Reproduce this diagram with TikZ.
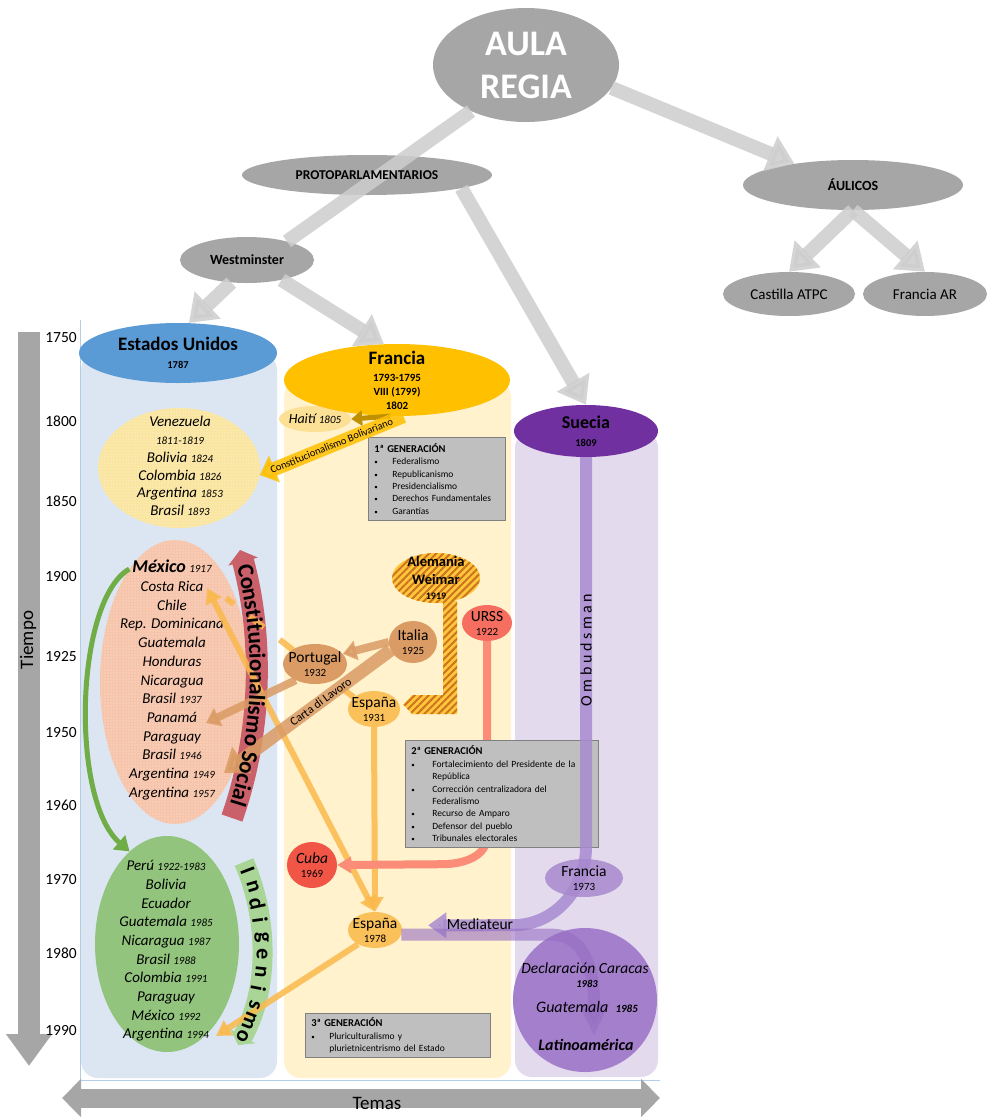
\documentclass[tikz,border=0pt]{standalone}
\usepackage{fontspec}
\setmainfont{Carlito}
\usepackage{tikz}
\usetikzlibrary{arrows.meta,shapes.geometric,patterns.meta,decorations.text,calc}

\definecolor{nodegray}{RGB}{166,166,166}
\definecolor{arrgray}{RGB}{205,205,205}
\definecolor{colblue}{RGB}{220,230,242}
\definecolor{colyel}{RGB}{255,242,204}
\definecolor{colpur}{RGB}{228,218,238}
\definecolor{axisblue}{RGB}{180,205,230}
\definecolor{timegray}{RGB}{166,166,166}
\definecolor{eeuublue}{RGB}{91,155,213}
\definecolor{frgold}{RGB}{255,192,0}
\definecolor{suepur}{RGB}{112,48,160}
\definecolor{haitiyel}{RGB}{251,224,150}
\definecolor{darkgold}{RGB}{191,144,0}
\definecolor{venyel}{RGB}{250,229,160}
\definecolor{mexred}{RGB}{246,196,170}
\definecolor{consred}{RGB}{201,96,106}
\definecolor{perugreen}{RGB}{146,196,125}
\definecolor{indgreen}{RGB}{169,213,150}
\definecolor{arrgreen}{RGB}{112,173,71}
\definecolor{brownor}{RGB}{218,155,100}
\definecolor{spainor}{RGB}{250,192,90}
\definecolor{lightor}{RGB}{250,185,75}
\definecolor{ussrred}{RGB}{245,110,95}
\definecolor{ussrband}{RGB}{250,140,120}
\definecolor{cubared}{RGB}{240,85,70}
\definecolor{hatchyel}{RGB}{255,200,60}
\definecolor{hatchorg}{RGB}{205,115,30}
\definecolor{boxgray}{RGB}{191,191,191}
\definecolor{boxedge}{RGB}{128,128,128}
\definecolor{fr73pur}{RGB}{168,137,206}
\definecolor{latpur}{RGB}{163,127,204}
\definecolor{bandpur}{RGB}{150,110,195}
\definecolor{ombpur}{RGB}{167,139,208}

\pgfdeclarelayer{back}
\pgfdeclarelayer{links}
\pgfdeclarelayer{front}
\pgfsetlayers{back,links,main,front}

\newcommand{\fsz}[2]{\fontsize{#1}{#2}\selectfont}
\newcommand{\yr}[1]{{\fsz{11}{11}#1}}
\newcommand{\bul}[2][18pt]{\makebox[#1][l]{\fsz{7}{7}\textbullet}#2}

\tikzset{
  ell/.style 2 args={ellipse, inner sep=0pt, minimum width=#1pt, minimum height=#2pt},
  lab/.style={align=center, inner sep=0pt},
  smlab/.style={align=center, inner sep=0pt, font=\fsz{15.5}{14}},
  topnode/.style={fill=nodegray, font=\fsz{14}{14}\bfseries},
  listtext/.style={align=center, inner sep=0pt, font=\fsz{15}{18.7}\itshape},
  yearlbl/.style={font=\fsz{15.5}{15.5}},
  grayline/.style={line width=14pt, arrgray, opacity=.85},
  grayarrow/.style={grayline, -{Triangle[width=36pt,length=26pt]}},
  timearrow/.style={line width=22pt, timegray, -{Triangle[width=44pt,length=32pt]}},
  temasarrow/.style={line width=19pt, timegray, {Triangle[width=37pt,length=19pt]}-{Triangle[width=37pt,length=19pt]}},
  genbox/.style={draw=boxedge, fill=boxgray, line width=.8pt, anchor=north west, inner xsep=6pt, inner ysep=4pt, align=left, font=\fsz{9.5}{12.4}},
  orline/.style={line width=6pt, lightor, opacity=.85},
  orarrow/.style={orline, -{Triangle[width=17pt,length=15pt]}},
  brownarrow/.style={line width=#1, brownor, opacity=.85, -{Triangle[width=0pt 2.4,length=0pt 1.7]}},
  hatch/.style={preaction={fill=hatchyel}, pattern={Lines[angle=45,distance=5pt,line width=2pt]}, pattern color=hatchorg},
  dotfill/.style={postaction={pattern={Dots[distance=3pt,radius=.6pt]}, pattern color=#1}},
  bandtext/.style={text=black, text opacity=1},
}

\begin{document}
\begin{tikzpicture}[x=1pt,y=-1pt]
\useasboundingbox (0,0) rectangle (988,1117);

% columns, axes, lists
\begin{pgfonlayer}{back}
\fill[white] (0,0) rectangle (988,1117);
\fill[colblue,rounded corners=17pt] (81,353) rectangle (277,1078);
\fill[colyel,rounded corners=17pt] (284,380) rectangle (511,1078);
\fill[colpur,rounded corners=17pt] (515,431) rectangle (658,1077);
\draw[axisblue,line width=1pt] (80,320) -- (80,1080) -- (660,1080);

\draw[timearrow] (29,332) -- (29,1066);
\node[rotate=90,font=\fsz{19}{19}] (tiempo) at (28,640) {Tiempo};
\draw[temasarrow] (62,1098) -- (660,1098);
\node[font=\fsz{19}{19}] (temas) at (377,1103) {Temas};
\foreach \yy/\yp in {1750/338,1800/421,1850/501,1900/577,1925/657,1950/733,1960/805,1970/880,1980/953,1990/1031}
  \node[yearlbl] (yr\yy) at (61,\yp) {\yy};

\node[ell={162}{120}, fill=venyel, dotfill=white!55!venyel] (venez) at (179,468) {};
\node[listtext, font=\fsz{15}{17.8}\itshape] (venezt) at (180,466) {Venezuela\\\yr{1811-1819}\\Bolivia \yr{1824}\\Colombia \yr{1826}\\Argentina \yr{1853}\\Brasil \yr{1893}};
\node[ell={150}{284}, fill=mexred, dotfill=white!55!mexred] (mexico) at (175,682) {};
\node[listtext] (mexicot) at (172,680) {{\fsz{18}{18}\bfseries México} \yr{1917}\\Costa Rica\\Chile\\Rep. Dominicana\\Guatemala\\Honduras\\Nicaragua\\Brasil \yr{1937}\\Panamá\\Paraguay\\Brasil \yr{1946}\\Argentina \yr{1949}\\Argentina \yr{1957}};
\node[ell={144}{216}, fill=perugreen] (peru) at (167,944) {};
\node[listtext] (perut) at (166,951) {Perú \yr{1922-1983}\\Bolivia\\Ecuador\\Guatemala \yr{1985}\\Nicaragua \yr{1987}\\Brasil \yr{1988}\\Colombia \yr{1991}\\Paraguay\\México \yr{1992}\\Argentina \yr{1994}};

\draw[line width=22pt, consred, -{Triangle[width=30pt,length=12pt]}] (232,818) .. controls (263,730) and (263,635) .. (240,550);
\draw[line width=20pt, indgreen, -{Triangle[width=28pt,length=10pt]}] (244,862) .. controls (269,920) and (269,990) .. (238,1045);
\end{pgfonlayer}

% top tree
\node[ell={186}{114}, fill=nodegray, label={[lab, font=\fsz{36}{43}\bfseries, text=white]center:{AULA\\REGIA}}] (aula) at (526,65) {};
\node[ell={250}{40}, fill=nodegray] (proto) at (367,175) {};
\node[ell={134}{46}, topnode] (west) at (247,260) {Westminster};
\node[ell={220}{50}, topnode] (aulicos) at (853,185) {ÁULICOS};
\node[ell={132}{44}, topnode, font=\fsz{15}{15}] (castilla) at (789,294) {Castilla ATPC};
\node[ell={124}{44}, topnode, font=\fsz{15}{15}] (franciaar) at (925,294) {Francia AR};

% column heads
\node[ell={72}{26}, fill=haitiyel, label={[smlab, font=\fsz{14}{14}\itshape]center:{Haití \yr{1805}}}] (haiti) at (315,419) {};
\node[ell={198}{60}, fill=eeuublue, label={[lab, font=\fsz{10.5}{18}\bfseries]center:{{\fsz{19}{19}Estados Unidos}\\1787}}] (eeuu) at (178,353) {};
\node[ell={226}{72}, fill=frgold, label={[lab, font=\fsz{11}{14}\bfseries]center:{{\fsz{19}{19}Francia}\\[3pt]1793-1795\\VIII (1799)\\1802}}] (francia) at (397,380) {};
\node[ell={144}{52}, fill=suepur, label={[lab, font=\fsz{10.5}{18}\bfseries]center:{{\fsz{18}{18}Suecia}\\1809}}] (suecia) at (586,431) {};

% middle nodes
\node[ell={88}{50}, hatch, label={[lab, font=\fsz{14.5}{18}\bfseries]center:{Alemania\\Weimar\\[-3pt]{\fsz{10}{10}1919}}}] (alemania) at (436,578) {};
\node[ell={50}{36}, fill=ussrred, label={[smlab]center:{URSS\\\yr{1922}}}] (urss) at (487,623) {};
\node[ell={48}{42}, fill=brownor, label={[smlab]center:{Italia\\\yr{1925}}}] (italia) at (413,642) {};
\node[ell={64}{40}, fill=brownor, label={[smlab]center:{Portugal\\\yr{1932}}}] (portugal) at (315,664) {};
\node[ell={52}{36}, fill=spainor, label={[smlab]center:{España\\\yr{1931}}}] (esp31) at (374,709) {};
\node[ell={50}{46}, fill=cubared, label={[smlab]center:{\textit{Cuba}\\\yr{1969}}}] (cuba) at (312,865) {};
\node[ell={54}{36}, fill=spainor, label={[smlab]center:{España\\\yr{1978}}}] (esp78) at (375,930) {};
\node[circle, minimum size=144pt, inner sep=0pt, fill=latpur] (latino) at (585,1000) {};

\node[genbox, text width=125pt, minimum height=83pt] (gen1) at (368,437) {{\fsz{10.5}{12.4}\bfseries 1ª GENERACIÓN}\\\bul{Federalismo}\\\bul{Republicanismo}\\\bul{Presidencialismo}\\\bul{Derechos Fundamentales}\\\bul{Garantías}};
\node[genbox, text width=181pt, minimum height=107pt] (gen2) at (405,740) {{\fsz{10.5}{12.4}\bfseries 2ª GENERACIÓN}\\\bul[21pt]{Fortalecimiento del Presidente de la}\\\hspace*{21pt}República\\\bul[21pt]{Corrección centralizadora del}\\\hspace*{21pt}Federalismo\\\bul[21pt]{Recurso de Amparo}\\\bul[21pt]{Defensor del pueblo}\\\bul[21pt]{Tribunales electorales}};
\node[genbox, text width=173pt, minimum height=44pt] (gen3) at (305,1013) {{\fsz{10.5}{12.4}\bfseries 3ª GENERACIÓN}\\\bul{Pluriculturalismo y}\\\hspace*{18pt}plurietnicentrismo del Estado};

\coordinate (costarica) at (207,588);
\coordinate (crdash) at (226,598);
\coordinate (panama) at (206,723);
\coordinate (arg49) at (224,773);
\coordinate (arg94) at (216,1036);
\coordinate (latinotip) at (594,1036);

% influences
\begin{pgfonlayer}{links}
\draw[line width=5pt, arrgreen, -{Triangle[width=18pt,length=14pt]}] (mexico.112) .. controls (75,600) and (70,800) .. (peru.112);
\draw[orline, {Triangle[width=17pt,length=15pt]}-{Triangle[width=17pt,length=15pt]}] (costarica) -- (esp78.north);
\draw[orline, dash pattern=on 18pt off 20pt] (esp31.150) -- (crdash);
\draw[orarrow] (esp31.south) -- (esp78.north);
\draw[orarrow] (esp78.220) -- (arg94);
\draw[brownarrow=8pt] (italia.west) -- (portugal.20);
\draw[brownarrow=13pt] (italia.200) -- (arg49) node[pos=.42, sloped, bandtext, font=\fsz{12}{12}] (carta) {Carta di Lavoro};
\draw[brownarrow=8pt] (portugal.220) -- (panama);
\draw[line width=8pt, ussrband, -{Triangle[width=16pt,length=14pt]}] (urss.south) -- ++(0,195) to[out=-90,in=0] ++(-45,28) -- (cuba.east);
\path[hatch] ([xshift=7pt,yshift=3pt]alemania.south) -- ([xshift=21pt,yshift=3pt]alemania.south)
  -- ([xshift=57pt,yshift=-5pt]esp31.east) -- ([xshift=12pt,yshift=-5pt]esp31.east)
  -- ([xshift=3pt,yshift=4.5pt]esp31.east) -- ([xshift=12pt,yshift=14pt]esp31.east)
  -- ([xshift=43pt,yshift=14pt]esp31.east) -- cycle;
% band texts above the crossing arrows
\path[decorate, decoration={text along path, text align=center, raise=-6.5pt,
  text={|\fsz{23}{23}\bfseries|Constitucionalismo Social}}] (240,552) .. controls (263,635) and (263,730) .. (232,818);
\foreach \ch/\pp [count=\k] in {I/.05,n/.14,d/.23,i/.32,g/.41,e/.50,n/.59,i/.68,s/.77,m/.86,o/.95}
  \path (244,862) .. controls (269,920) and (269,990) .. (238,1045) node[pos=\pp, sloped, allow upside down, font=\fsz{22}{22}\bfseries] (ind\k) {\ch};
\end{pgfonlayer}

% arrows on top
\begin{pgfonlayer}{front}
\draw[grayline] (aula.220) -- (west.25);
\draw[grayarrow] (aula.-15) -- (aulicos.160);
\draw[grayarrow] (proto.-8) -- (suecia.north);
\draw[grayarrow] (west.235) -- (eeuu.70);
\draw[grayarrow] (west.-30) -- (francia.110);
\draw[grayarrow] (aulicos.south) -- (castilla.north);
\draw[grayarrow] (aulicos.south) -- (franciaar.north);
\node[font=\fsz{13.5}{13.5}\bfseries] (protot) at (proto) {PROTOPARLAMENTARIOS};

\draw[line width=5pt, darkgold, -{Triangle[width=15pt,length=11pt]}] (francia.260) -- (haiti.east);
\draw[line width=14pt, frgold, opacity=.85, -{Triangle[width=28pt,length=16pt]}] (francia.-80) -- (venez.-5)
  node[pos=.5, sloped, bandtext, font=\fsz{10.5}{10.5}] (bolivar) {Constitucionalismo Bolivariano};

\draw[line width=12pt, ombpur, opacity=.85, -{Triangle[width=14pt,length=45pt]}] (suecia.south) -- ++(0,390) to[out=-90,in=0] ++(-73,78) -- (esp78.10);
\node[ell={78}{38}, fill=fr73pur, fill opacity=.85, text opacity=1, label={[smlab]center:{Francia\\\yr{1973}}}] (fr73) at (584,878) {};
\draw[line width=12pt, bandpur, opacity=.6, -{Triangle[width=28pt,length=32pt]}] (esp78.-10) -- ++(150,0) to[out=0,in=90] (latinotip);
\node[rotate=90, font=\fsz{16}{16}] (ombud) at (586,650) {O m b u d s m a n};
\node[font=\fsz{15.5}{15}] (mediat) at (480,924) {Mediateur};
\node[font=\fsz{15.5}{15}\itshape] (decl) at (585,968) {Declaración Caracas};
\node[font=\fsz{10.5}{10}\bfseries\itshape] (decl83) at (587,984) {1983};
\node[font=\fsz{16}{15}\itshape] (guate) at (587,1007) {Guatemala\ \ \yr{\bfseries 1985}};
\node[font=\fsz{16}{15}\bfseries\itshape] (latam) at (586,1045) {Latinoamérica};
\end{pgfonlayer}
\end{tikzpicture}
\end{document}
